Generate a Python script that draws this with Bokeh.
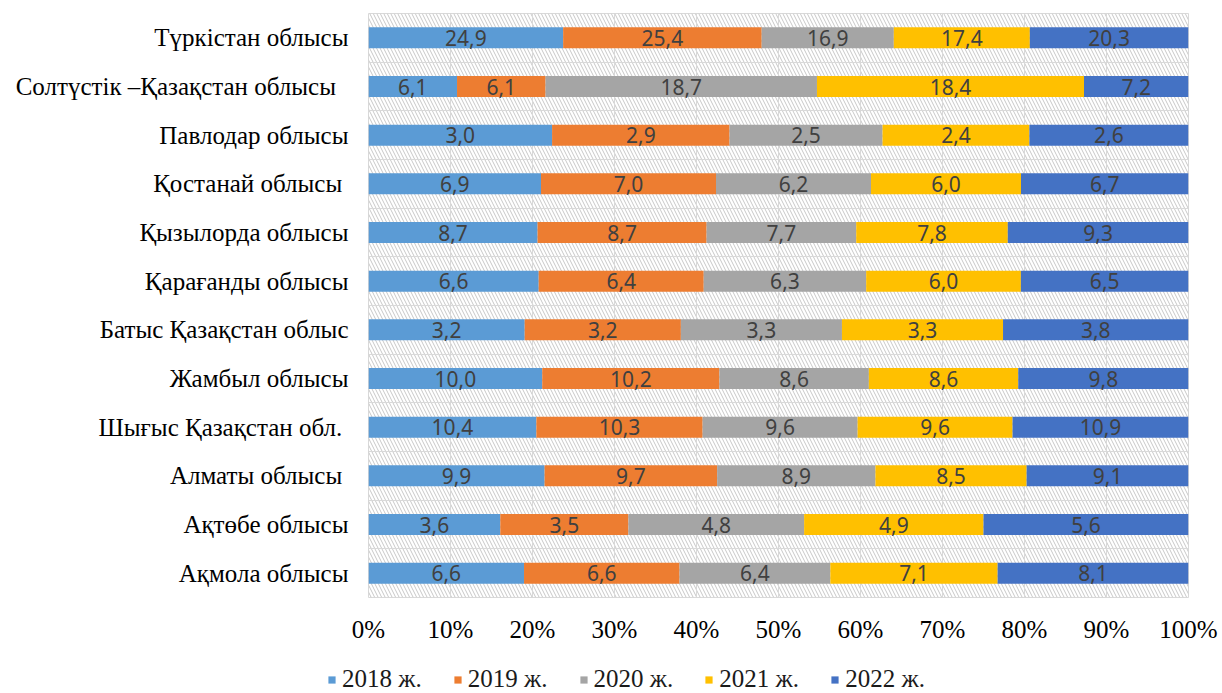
from bokeh.plotting import figure
from bokeh.models import ColumnDataSource, FixedTicker, NumeralTickFormatter, Legend, LegendItem, Range1d
from bokeh.core.properties import value
from bokeh.embed import file_html
from bokeh.resources import INLINE

# categories listed bottom -> top
regions = ["Ақмола облысы", "Ақтөбе облысы", "Алматы облысы ", "Шығыс Қазақстан  обл.",
           "Жамбыл облысы", "Батыс Қазақстан облыс", "Қарағанды облысы", "Қызылорда облысы",
           "Қостанай  облысы", "Павлодар облысы", "Солтүстік –Қазақстан  облысы ", "Түркістан облысы"]
years = ["2018 ж.", "2019 ж.", "2020 ж.", "2021 ж.", "2022 ж."]
v2018 = [6.6, 3.6, 9.9, 10.4, 10.0, 3.2, 6.6, 8.7, 6.9, 3.0, 6.1, 24.9]
v2019 = [6.6, 3.5, 9.7, 10.3, 10.2, 3.2, 6.4, 8.7, 7.0, 2.9, 6.1, 25.4]
v2020 = [6.4, 4.8, 8.9, 9.6, 8.6, 3.3, 6.3, 7.7, 6.2, 2.5, 18.7, 16.9]
v2021 = [7.1, 4.9, 8.5, 9.6, 8.6, 3.3, 6.0, 7.8, 6.0, 2.4, 18.4, 17.4]
v2022 = [8.1, 5.6, 9.1, 10.9, 9.8, 3.8, 6.5, 9.3, 6.7, 2.6, 7.2, 20.3]
x_ticks = [0.0, 0.1, 0.2, 0.3, 0.4, 0.5, 0.6, 0.7, 0.8, 0.9, 1.0]
colors = ["#5B9BD5", "#ED7D31", "#A5A5A5", "#FFC000", "#4472C4"]

series = [v2018, v2019, v2020, v2021, v2022]
n = len(regions)
ypos = [i + 0.5 for i in range(n)]
totals = [sum(s[i] for s in series) for i in range(n)]
data = {"y": ypos}
for yr, s in zip(years, series):
    data[yr] = [s[i] / totals[i] for i in range(n)]
src = ColumnDataSource(data)

SERIF = "Liberation Serif"
p = figure(width=1222, height=645, output_backend="svg", toolbar_location=None,
           x_range=Range1d(0, 1), y_range=Range1d(0, n),
           min_border_left=368, min_border_right=34, min_border_top=13, min_border_bottom=48)

# hatched background of the plot area
p.quad(left=[x_ticks[0]], right=[x_ticks[-1]], bottom=[0], top=[n], fill_color=None, line_color=None,
       hatch_pattern="\\", hatch_color="#c8c8c8", hatch_scale=7, hatch_weight=1, level="image")

renderers = p.hbar_stack(years, y="y", height=0.43, color=colors, source=src, line_color=None)

# value labels
lx, ly, lt = [], [], []
for i in range(n):
    cum = 0.0
    for s in series:
        frac = s[i] / totals[i]
        lx.append(cum + frac / 2)
        ly.append(ypos[i])
        lt.append(f"{s[i]:.1f}".replace(".", ","))
        cum += frac
p.text(x=lx, y=ly, text=lt, text_align="center", text_baseline="middle",
       text_font=value("Noto Sans"), text_font_size="21px", text_color="#404040")

p.xaxis.ticker = FixedTicker(ticks=x_ticks)
p.xaxis.formatter = NumeralTickFormatter(format="0%")
p.yaxis.ticker = FixedTicker(ticks=ypos)
p.yaxis.major_label_overrides = {ypos[i]: regions[i] for i in range(n)}
for ax in (p.xaxis, p.yaxis):
    ax.axis_line_color = None
    ax.major_tick_line_color = None
    ax.minor_tick_line_color = None
    ax.major_tick_out = 0
    ax.major_tick_in = 0
    ax.major_label_text_font = SERIF
    ax.major_label_text_font_size = "25px"
    ax.major_label_text_color = "#000000"
p.xaxis.major_label_standoff = 18
p.yaxis.major_label_standoff = 20

p.xgrid.ticker = FixedTicker(ticks=x_ticks)
p.ygrid.ticker = FixedTicker(ticks=list(range(n + 1)))
p.grid.grid_line_color = "#d9d9d9"
p.grid.grid_line_width = 1
p.outline_line_color = "#d9d9d9"

# legend strip below the chart (separate root so its frame spans the full width);
# its swatch renderers share the data but lie outside this strip's ranges
p2 = figure(width=1222, height=48, output_backend="svg", toolbar_location=None,
            x_axis_type=None, y_axis_type=None, x_range=Range1d(-3, -2), y_range=Range1d(-100, -99),
            min_border=0, outline_line_color=None)
p2.grid.visible = False
swatches = [p2.hbar(y="y", right=yr, height=0.43, source=src, fill_color=c, line_color=None)
            for yr, c in zip(years, colors)]
legend = Legend(items=[LegendItem(label=yr, renderers=[r]) for yr, r in zip(years, swatches)],
                orientation="horizontal", location=(327, 0), glyph_width=9, glyph_height=9,
                label_text_font=SERIF, label_text_font_size="25px", label_text_color="#1a1a1a",
                label_standoff=6, spacing=31, padding=0, margin=0, border_line_color=None,
                background_fill_alpha=0)
p2.add_layout(legend)

open("out.html", "w").write(file_html([p, p2], INLINE))
